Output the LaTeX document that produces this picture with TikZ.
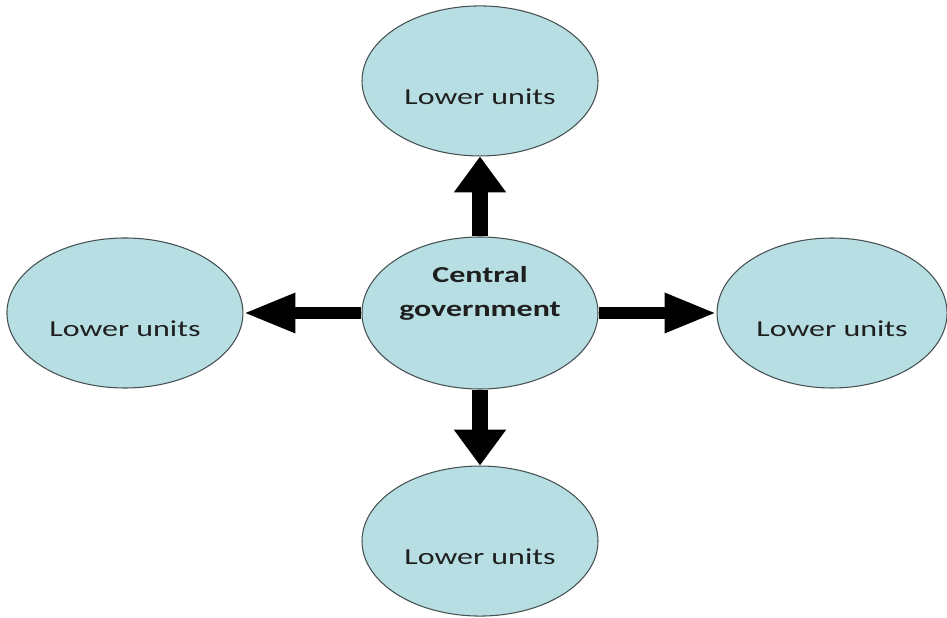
\documentclass[tikz,border=0pt]{standalone}
\usepackage{fontspec}
\setmainfont{Carlito}[FakeStretch=1.4]
\usetikzlibrary{arrows.meta,positioning,shapes}
\definecolor{unitfill}{RGB}{183,223,227}
\definecolor{unitline}{RGB}{70,80,82}
\tikzset{%
  % Specifications for style of nodes:
       unitbase/.style = {ellipse, draw=unitline, line width=0.6pt,
                          fill=unitfill, minimum width=4.72cm,
                          minimum height=3.0cm, inner sep=0pt,
                          text=black!88, font=\fontsize{13}{19.5}\selectfont},
      lowerunit/.style = {unitbase, text height=0.95cm, text depth=0cm},
        central/.style = {unitbase, align=center, minimum height=3.04cm,
                          text height=0.5cm, text depth=0.35cm,
                          font=\fontsize{13}{19.5}\selectfont\bfseries},
  % Specifications for style of arrows:
        vertarrow/.style = {line width=0.32cm,
                            -{Triangle[length=0.72cm,width=1.0cm]}},
       horizarrow/.style = {line width=0.24cm,
                            -{Triangle[length=1.04cm,width=0.74cm]}},
}
\begin{document}
\begin{tikzpicture}[node distance=1.6cm and 2.36cm]
\useasboundingbox (0,0) rectangle (18.94,12.36);

\node (Gov)    [central] at (9.6,6.1) {Central\\government};

\node (UpperU) [lowerunit, above=of Gov]  {Lower units};

\node (LowerU) [lowerunit, below=1.52cm of Gov]  {Lower units};

\node (LeftU)  [lowerunit, left=of Gov]   {Lower units};

\node (RightU) [lowerunit, right=of Gov, minimum width=4.6cm]  {Lower units};

\draw[vertarrow]    (Gov) -- (UpperU);
\draw[vertarrow]    (Gov) -- (LowerU);
\draw[horizarrow]   (Gov) -- (LeftU);
\draw[horizarrow]   (Gov) -- (RightU);
\end{tikzpicture}
\end{document}
